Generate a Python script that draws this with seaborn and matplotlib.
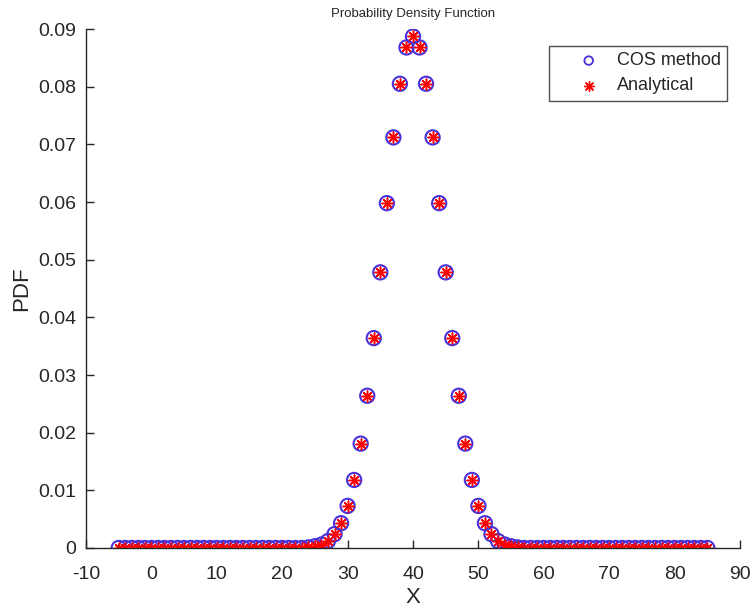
import matplotlib
matplotlib.use("Agg")
import matplotlib.pyplot as plt
import seaborn as sns
import pandas as pd

x_vals = list(range(-5, 86))
left_tail = [0.0] * 29  # x = -5 .. 23
rise = [0.0001, 0.0003, 0.0006, 0.0012, 0.0024, 0.0043, 0.0073, 0.0118,
        0.0181, 0.0264, 0.0364, 0.0478, 0.0598, 0.0712, 0.0805, 0.0868]  # x = 24 .. 39
peak = [0.0887]  # x = 40
fall = [0.0868, 0.0805, 0.0712, 0.0598, 0.0478, 0.0364, 0.0264, 0.0181,
        0.0118, 0.0073, 0.0043, 0.0024, 0.0012, 0.0006, 0.0003, 0.0001]  # x = 41 .. 56
right_tail = [0.0] * 29  # x = 57 .. 85
cos_pdf = left_tail + rise + peak + fall + right_tail
analytical_pdf = list(cos_pdf)

df = pd.DataFrame({"X": x_vals, "COS": cos_pdf, "ANA": analytical_pdf})

sns.set_style("white")
plt.rcParams['font.family'] = ['Liberation Sans', 'DejaVu Sans']
plt.rcParams['axes.unicode_minus'] = False

fig = plt.figure(figsize=(7.56, 6.11), dpi=100)
ax = fig.add_axes([86/756, 1 - 548/611, (740-86)/756, (548-29)/611])

sns.scatterplot(data=df, x="X", y="COS", ax=ax, marker="o", s=105,
                facecolor="none", edgecolor="#4a30d8", linewidth=1.5,
                label="COS method")
sns.scatterplot(data=df, x="X", y="ANA", ax=ax, marker=(8, 2, 0), s=60,
                color="#ff0000", edgecolor="#ff0000", linewidth=1.1,
                label="Analytical")

ax.set_xlim(-10, 90)
ax.set_ylim(0, 0.09)
ax.set_xticks(list(range(-10, 91, 10)))
ax.set_yticks([0, 0.01, 0.02, 0.03, 0.04, 0.05, 0.06, 0.07, 0.08, 0.09])
ax.set_yticklabels(["0", "0.01", "0.02", "0.03", "0.04", "0.05", "0.06", "0.07", "0.08", "0.09"])
ax.tick_params(direction="in", length=6, width=1, labelsize=14, colors="#262626",
               left=True, bottom=True)
ax.tick_params(axis="x", pad=13)
ax.tick_params(axis="y", pad=7)
for s in ["top", "right"]:
    ax.spines[s].set_visible(False)
for s in ["left", "bottom"]:
    ax.spines[s].set_color("#262626")
    ax.spines[s].set_linewidth(1)

ax.set_xlabel("X", fontsize=16, color="#262626", labelpad=3)
ax.set_ylabel("PDF", fontsize=16, color="#262626", labelpad=4)
ax.set_title("Probability Density Function", fontsize=9.5, color="#262626", pad=9)

leg = ax.legend(loc="upper right", bbox_to_anchor=(727/756, 1 - 46/611),
                bbox_transform=fig.transFigure, fontsize=13, frameon=True,
                fancybox=False, edgecolor="#262626", borderpad=0.35,
                handletextpad=-0.3, labelspacing=0.45, borderaxespad=0,
                handlelength=3.7, markerscale=1)
leg.get_frame().set_linewidth(1)
hs = leg.legend_handles
hs[0].set_sizes([38])
hs[0].set_linewidth(1.3)
hs[1].set_sizes([50])
hs[1].set_linewidth(1.0)

fig.savefig("out.png", dpi=100, facecolor="white")
